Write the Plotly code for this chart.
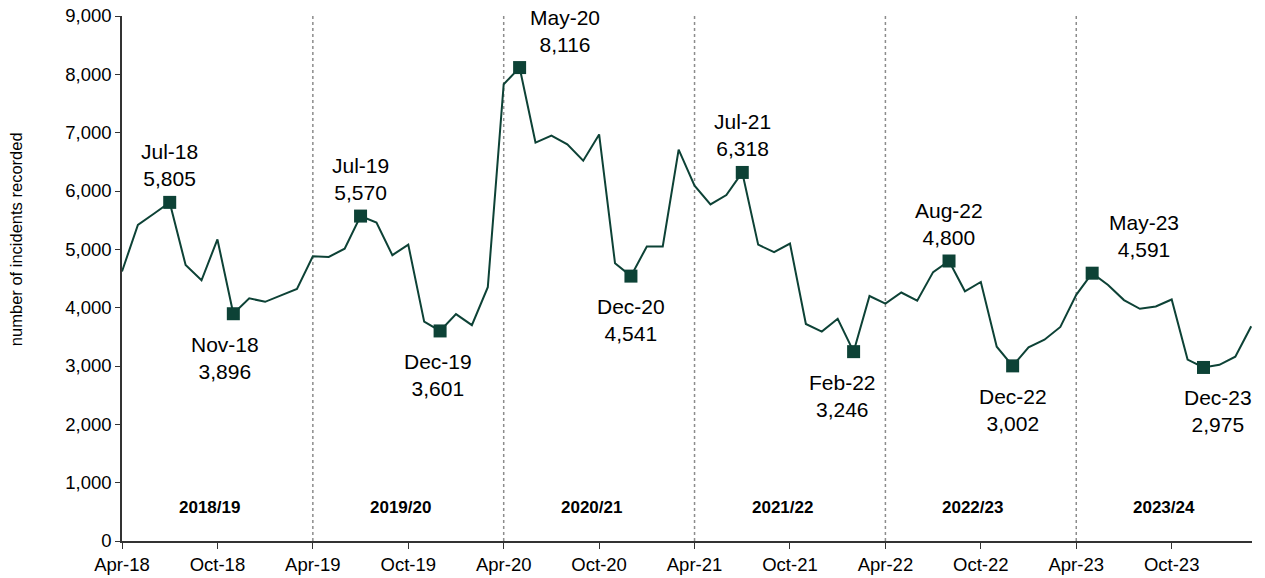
import plotly.graph_objects as go

years = ["18", "19", "20", "21", "22", "23", "24"]
month_names = ["Apr", "May", "Jun", "Jul", "Aug", "Sep", "Oct", "Nov", "Dec", "Jan", "Feb", "Mar"]

months = []
for i in range(6):
    for j, m in enumerate(month_names):
        yr = years[i] if j < 9 else years[i + 1]
        months.append(f"{m}-{yr}")

values = [
    4620, 5420, 5610, 5805, 4730, 4470, 5170, 3896, 4160, 4100, 4210, 4320,
    4880, 4870, 5010, 5570, 5460, 4900, 5080, 3760, 3601, 3890, 3700, 4350,
    7830, 8116, 6830, 6950, 6800, 6520, 6970, 4760, 4541, 5050, 5050, 6710,
    6090, 5770, 5930, 6318, 5080, 4950, 5100, 3720, 3590, 3810, 3246, 4200,
    4070, 4260, 4120, 4610, 4800, 4280, 4440, 3330, 3002, 3320, 3450, 3670,
    4220, 4591, 4390, 4130, 3980, 4020, 4140, 3110, 2975, 3020, 3160, 3680,
]

highlight = ["Jul-18", "Nov-18", "Jul-19", "Dec-19", "May-20", "Dec-20",
             "Jul-21", "Feb-22", "Aug-22", "Dec-22", "May-23", "Dec-23"]
# label placement: (above?, x pixel shift)
label_pos = {
    "Jul-18": (True, 0), "Nov-18": (False, -8), "Jul-19": (True, 0),
    "Dec-19": (False, -2), "May-20": (True, 45), "Dec-20": (False, 0),
    "Jul-21": (True, 0), "Feb-22": (False, -11), "Aug-22": (True, 0),
    "Dec-22": (False, 0), "May-23": (True, 52), "Dec-23": (False, 15),
}

fy_labels = ["2018/19", "2019/20", "2020/21", "2021/22", "2022/23", "2023/24"]
tick_labels = ["Apr-18", "Oct-18", "Apr-19", "Oct-19", "Apr-20", "Oct-20",
               "Apr-21", "Oct-21", "Apr-22", "Oct-22", "Apr-23", "Oct-23"]
y_title = "number of incidents recorded"

x = list(range(len(values)))
color = "#0d4236"
font = "Liberation Sans, Arial, sans-serif"

fig = go.Figure()
fig.add_trace(go.Scatter(x=x, y=values, mode="lines",
                         line=dict(color=color, width=2), hoverinfo="skip",
                         showlegend=False))
hx = [months.index(h) for h in highlight]
hy = [values[i] for i in hx]
fig.add_trace(go.Scatter(x=hx, y=hy, mode="markers",
                         marker=dict(symbol="square", size=13, color=color),
                         showlegend=False))

for h in highlight:
    i = months.index(h)
    above, xs = label_pos[h]
    fig.add_annotation(x=i, y=values[i], xref="x", yref="y",
                       text=f"{h}<br>{values[i]:,}", showarrow=False,
                       xshift=xs, yshift=10 if above else -17,
                       yanchor="bottom" if above else "top",
                       font=dict(family=font, size=21, color="#000"))

for k, fy in enumerate(fy_labels):
    fig.add_annotation(x=5.5 + 12 * k, y=580, xref="x", yref="y", text=f"<b>{fy}</b>",
                       showarrow=False, font=dict(family=font, size=17, color="#000"))
    if k > 0:
        fig.add_shape(type="line", x0=12 * k, x1=12 * k, y0=0, y1=9000,
                      xref="x", yref="y",
                      line=dict(color="#8c8c8c", width=1.5, dash="dot"), layer="below")

# y-axis title (placed as rotated text, slightly above centre as in the reference)
fig.add_annotation(x=0, y=0.575, xref="paper", yref="paper", text=y_title,
                   textangle=-90, showarrow=False, xshift=-106,
                   xanchor="center", yanchor="middle",
                   font=dict(family=font, size=16.5, color="#000"))

fig.update_layout(
    width=1265, height=578,
    margin=dict(l=122, r=13, t=16, b=37, autoexpand=False),
    plot_bgcolor="white", paper_bgcolor="white",
    font=dict(family=font, size=18, color="#000"),
    xaxis=dict(range=[0, 71.05], tickvals=list(range(0, 72, 6)), ticktext=tick_labels,
               showgrid=False, zeroline=False, showline=True, linecolor="#333",
               linewidth=1.5, ticks="outside", ticklen=6, tickcolor="#333",
               tickfont=dict(size=18.5), automargin=False),
    yaxis=dict(range=[0, 9000], dtick=1000, tickformat=",", showgrid=False,
               zeroline=False, showline=True, linecolor="#333", linewidth=1.5,
               ticks="outside", ticklen=5, tickcolor="#333", tickfont=dict(size=18.5),
               automargin=False),
)

fig.write_html("out.html", config={"displayModeBar": False},
               post_script="document.body.style.margin='0';")
